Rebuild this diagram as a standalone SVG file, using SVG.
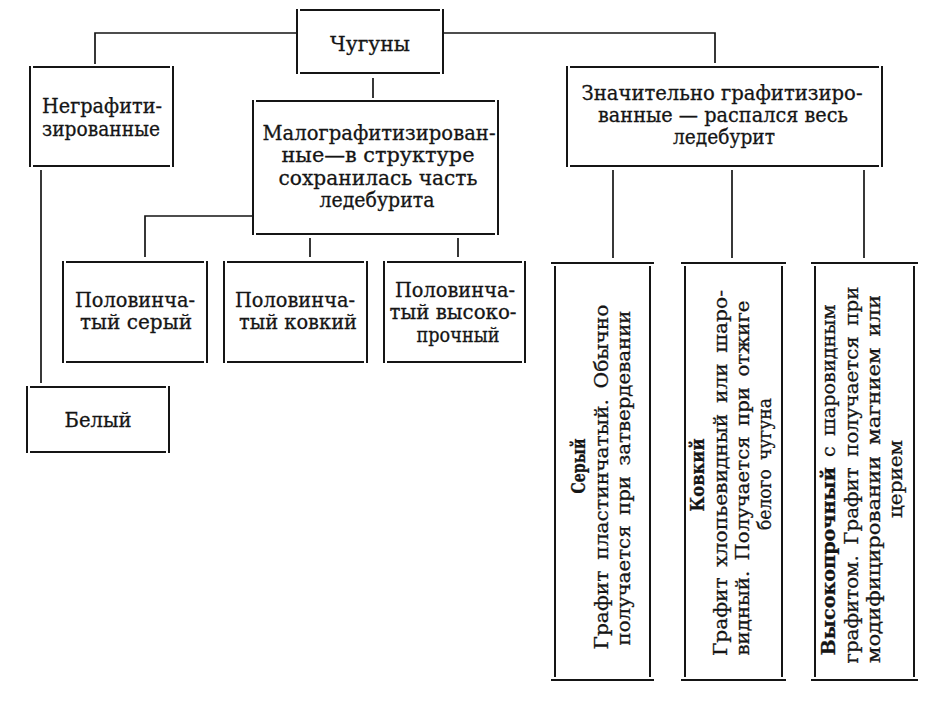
<svg xmlns="http://www.w3.org/2000/svg" width="950" height="710" viewBox="0 0 950 710">
<style>
.bg{fill:#fff}
.box{fill:none;stroke:#151515;stroke-width:2}
.con{fill:none;stroke:#151515;stroke-width:1.7}
.t{font-family:"DejaVu Serif","Liberation Serif",serif;font-size:21px;fill:#151515;stroke:#151515;stroke-width:0.3;text-anchor:middle}
.r{font-family:"DejaVu Serif","Liberation Serif",serif;font-size:19px;fill:#151515;stroke:#151515;stroke-width:0.3;text-anchor:middle;word-spacing:4px}
.b{font-weight:bold}
</style>
<rect class="bg" x="0" y="0" width="950" height="710"/>
<g id="connectors">
<path class="con" d="M95 64V33H297"/>
<path class="con" d="M443 33H715V63"/>
<path class="con" d="M373 78V98"/>
<path class="con" d="M41 170V383"/>
<path class="con" d="M253 216H145V257"/>
<path class="con" d="M310 238V257"/>
<path class="con" d="M458 238V257"/>
<path class="con" d="M613 170V258"/>
<path class="con" d="M732 170V258"/>
<path class="con" d="M864 170V258"/>
</g>
<g id="chuguny">
<path class="box" d="M297 9V74M443 9V74M300 10H440M300 73H440"/>
<text class="t" x="370" y="51" textLength="80" lengthAdjust="spacingAndGlyphs">Чугуны</text>
</g>
<g id="negrafit">
<path class="box" d="M30 66V167M173 66V167M33 67H170M33 166H170"/>
<text class="t" x="102" y="113" textLength="120" lengthAdjust="spacingAndGlyphs">Неграфити-</text>
<text class="t" x="101" y="136" textLength="118" lengthAdjust="spacingAndGlyphs">зированные</text>
</g>
<g id="malograf">
<path class="box" d="M253 100V235M498 100V235M256 101H495M256 234H495"/>
<text class="t" x="379" y="140" textLength="233" lengthAdjust="spacingAndGlyphs">Малографитизирован-</text>
<text class="t" x="378" y="162" textLength="193" lengthAdjust="spacingAndGlyphs">ные—в структуре</text>
<text class="t" x="378" y="185" textLength="199" lengthAdjust="spacingAndGlyphs">сохранилась часть</text>
<text class="t" x="377" y="207" textLength="115" lengthAdjust="spacingAndGlyphs">ледебурита</text>
</g>
<g id="znachit">
<path class="box" d="M567 66V167M882 66V167M570 67H879M570 166H879"/>
<text class="t" x="722" y="100" textLength="281" lengthAdjust="spacingAndGlyphs">Значительно графитизиро-</text>
<text class="t" x="723" y="122" textLength="250" lengthAdjust="spacingAndGlyphs">ванные — распался весь</text>
<text class="t" x="724" y="144" textLength="102" lengthAdjust="spacingAndGlyphs">ледебурит</text>
</g>
<g id="pol-seryi">
<path class="box" d="M63 261V363M207 261V363M66 262H204M66 362H204"/>
<text class="t" x="135" y="307" textLength="120" lengthAdjust="spacingAndGlyphs">Половинча-</text>
<text class="t" x="136" y="329" textLength="112" lengthAdjust="spacingAndGlyphs">тый серый</text>
</g>
<g id="pol-kovkii">
<path class="box" d="M224 261V363M367 261V363M227 262H364M227 362H364"/>
<text class="t" x="295" y="307" textLength="120" lengthAdjust="spacingAndGlyphs">Половинча-</text>
<text class="t" x="298" y="329" textLength="118" lengthAdjust="spacingAndGlyphs">тый ковкий</text>
</g>
<g id="pol-vysoko">
<path class="box" d="M384 261V363M525 261V363M387 262H522M387 362H522"/>
<text class="t" x="455" y="297" textLength="120" lengthAdjust="spacingAndGlyphs">Половинча-</text>
<text class="t" x="453" y="319" textLength="127" lengthAdjust="spacingAndGlyphs">тый высоко-</text>
<text class="t" x="458" y="342" textLength="83" lengthAdjust="spacingAndGlyphs">прочный</text>
</g>
<g id="belyi">
<path class="box" d="M27 386V453M169 386V453M30 387H166M30 452H166"/>
<text class="t" x="98" y="427" textLength="67" lengthAdjust="spacingAndGlyphs">Белый</text>
</g>
<g id="seryi">
<path class="box" d="M555 266V677M650 266V677M551 263H654M551 680H654"/>
<text class="r b" transform="translate(585,466) rotate(-90)" textLength="55" lengthAdjust="spacingAndGlyphs">Серый</text>
<text class="r" transform="translate(608,477) rotate(-90)" textLength="345" lengthAdjust="spacingAndGlyphs">Графит пластинчатый. Обычно</text>
<text class="r" transform="translate(630,478) rotate(-90)" textLength="335" lengthAdjust="spacingAndGlyphs">получается при затвердевании</text>
</g>
<g id="kovkii">
<path class="box" d="M685 266V677M782 266V677M681 263H786M681 680H786"/>
<text class="r b" transform="translate(704,475) rotate(-90)" textLength="73" lengthAdjust="spacingAndGlyphs">Ковкий</text>
<text class="r" transform="translate(727,473) rotate(-90)" textLength="366" lengthAdjust="spacingAndGlyphs">Графит хлопьевидный или шаро-</text>
<text class="r" transform="translate(749,478) rotate(-90)" textLength="355" lengthAdjust="spacingAndGlyphs">видный. Получается при отжиге</text>
<text class="r" transform="translate(771,464) rotate(-90)" textLength="132" lengthAdjust="spacingAndGlyphs">белого чугуна</text>
</g>
<g id="vysokoprochnyi">
<path class="box" d="M815 266V677M914 266V677M811 263H918M811 680H918"/>
<text class="r" transform="translate(835,480) rotate(-90)" textLength="351" lengthAdjust="spacingAndGlyphs"><tspan class="b">Высокопрочный</tspan> с шаровидным</text>
<text class="r" transform="translate(858,475) rotate(-90)" textLength="377" lengthAdjust="spacingAndGlyphs">графитом. Графит получается при</text>
<text class="r" transform="translate(880,479) rotate(-90)" textLength="368" lengthAdjust="spacingAndGlyphs">модифицировании магнием или</text>
<text class="r" transform="translate(902,479) rotate(-90)" textLength="78" lengthAdjust="spacingAndGlyphs">церием</text>
</g>
</svg>
